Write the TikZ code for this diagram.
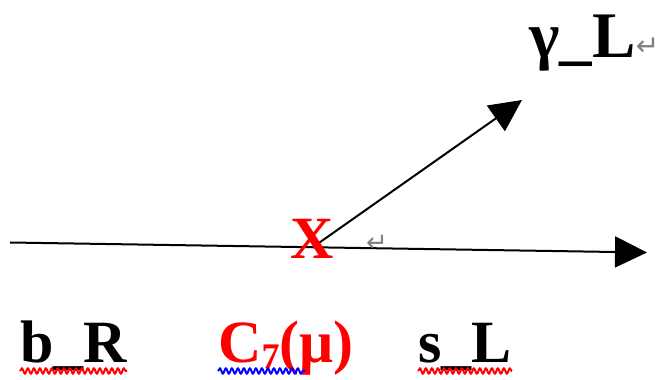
\documentclass[tikz,border=0pt]{standalone}
\usepackage{fontspec}
\setmainfont{Liberation Serif}
\newfontfamily\symfont{DejaVu Sans}
\usetikzlibrary{arrows.meta,decorations.pathmorphing}
\begin{document}
\begin{tikzpicture}[x=1pt,y=1pt,
  lbl/.style={anchor=base west,inner sep=0pt,font=\fontsize{60}{60}\selectfont\bfseries},
  ray/.style={line width=2pt,-{Triangle[length=32pt,width=31pt]}},
  wave/.style={line width=2pt,decorate,decoration={snake,segment length=6pt,amplitude=2.5pt}},
  pmark/.style={inner sep=0pt,text=gray,font=\symfont\fontsize{28}{28}\selectfont}]
\useasboundingbox (0,0) rectangle (664,380);
\coordinate (start) at (10,137.5);
\coordinate (end) at (647,127.5);
\coordinate (v) at (316,135);
\coordinate (tip) at (522,280);
\draw[ray] (start) -- (end);
\draw[ray] (v) -- (tip);
\node[lbl,anchor=center,text=red] (x) at (312,141) {X};
\node[pmark,font=\symfont\fontsize{26}{26}\selectfont] (p2) at (377,137) {↵};
\node[lbl,font=\fontsize{65}{65}\selectfont\bfseries] (gL) at (529,322) {γ\_L};
\node[pmark,anchor=south west] (p1) at ([xshift=0pt,yshift=2pt]gL.base east) {↵};
\node[lbl] (bR) at (20,17) {b\_R};
\node[lbl,text=red] (C7) at (218,17) {C\raisebox{-6pt}{\fontsize{36}{36}\selectfont 7}(μ)};
\node[lbl] (sL) at (418,17) {s\_L};
\draw[wave,red] ([yshift=-8pt]bR.base west) -- ([yshift=-8pt]bR.base east);
\draw[wave,blue] ([yshift=-8pt]C7.base west) -- ++(87,0);
\draw[wave,red] ([yshift=-8pt]sL.base west) -- ([yshift=-8pt]sL.base east);
\end{tikzpicture}
\end{document}
